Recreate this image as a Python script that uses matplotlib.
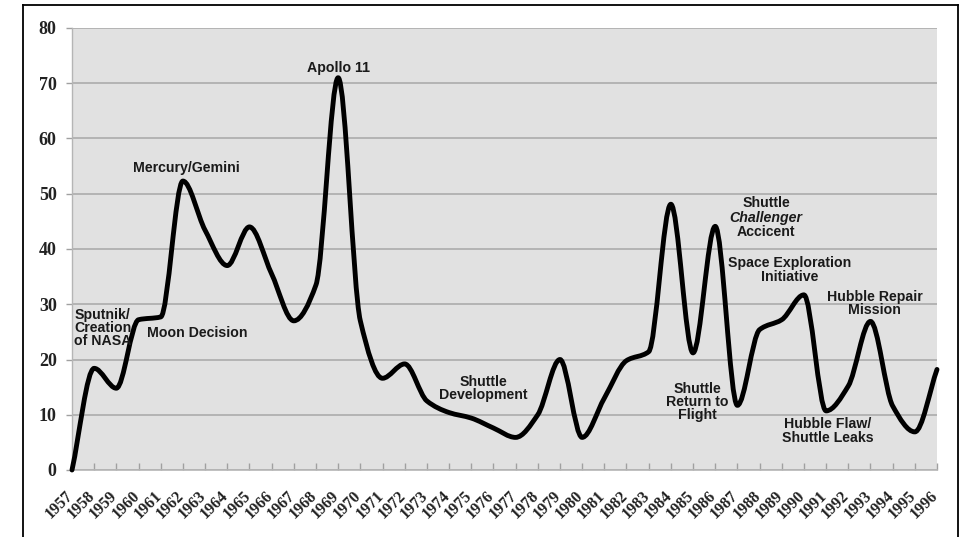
import numpy as np
import matplotlib
matplotlib.use("Agg")
import matplotlib.pyplot as plt
from matplotlib.path import Path
from matplotlib.patches import PathPatch
from matplotlib.lines import Line2D
import matplotlib.transforms as mtransforms

# ---------------- data ----------------
years = list(range(1957, 1997))
values = [0, 18.4, 14.8, 27.2, 27.7, 52.3, 43.4, 37, 44, 35.5,
          27, 33.5, 71, 27, 16.6, 19.2, 12.5, 10.4, 9.4, 7.6,
          5.9, 10, 20, 5.9, 13, 19.8, 21.4, 48.1, 21.2, 44.1,
          11.7, 25.4, 27.2, 31.7, 10.7, 15.2, 26.9, 11.6, 6.9, 18.2]
tick_labels = [str(y) for y in years]
y_ticks = [0, 10, 20, 30, 40, 50, 60, 70, 80]

annotations = [
    ("Sputnik/\nCreation\nof NASA", 1957.1, 25.7, "left"),
    ("Moon Decision", 1960.4, 24.8, "left"),
    ("Mercury/Gemini", 1962.16, 54.7, "center"),
    ("Apollo 11", 1969.03, 72.8, "center"),
    ("Shuttle\nDevelopment", 1975.54, 14.7, "center"),
    ("Space Exploration\nInitiative", 1989.34, 36.2, "center"),
    ("Hubble Repair\nMission", 1993.2, 30.1, "center"),
    ("Shuttle\nReturn to\nFlight", 1985.2, 12.3, "center"),
    ("Hubble Flaw/\nShuttle Leaks", 1991.07, 7.06, "center"),
]
challenger_lines = [("Shuttle", "normal", 48.3),
                    ("Challenger", "italic", 45.6),
                    ("Accicent", "normal", 43.1)]
challenger_x = 1988.29

# ---------------- figure ----------------
W, H, DPI = 964, 537, 100
fig = plt.figure(figsize=(W / DPI, H / DPI), dpi=DPI)
fig.patch.set_facecolor("white")
ax = fig.add_axes([72 / W, 1 - 470 / H, (937 - 72) / W, (470 - 28) / H])
ax.set_facecolor("#e1e1e1")

ax.set_xlim(years[0], years[-1])
ax.set_ylim(0, 80)

# smooth monotone (Fritsch-Carlson) curve expressed as bezier path
x = np.array(years, dtype=float)
y = np.array(values, dtype=float)
n = len(x)
h = np.diff(x)
d = np.diff(y) / h
m = np.zeros(n)
for i in range(1, n - 1):
    if d[i - 1] * d[i] > 0:
        w1 = 2 * h[i] + h[i - 1]
        w2 = h[i] + 2 * h[i - 1]
        m[i] = (w1 + w2) / (w1 / d[i - 1] + w2 / d[i])
m[0] = d[0]
m[-1] = d[-1]
verts = [(x[0], y[0])]
codes = [Path.MOVETO]
for i in range(n - 1):
    hh = h[i]
    verts += [(x[i] + hh / 3, y[i] + m[i] * hh / 3),
              (x[i + 1] - hh / 3, y[i + 1] - m[i + 1] * hh / 3),
              (x[i + 1], y[i + 1])]
    codes += [Path.CURVE4] * 3
path = Path(verts, codes)
ax.add_patch(PathPatch(path, fill=False, edgecolor="black", lw=3.5,
                       capstyle="round", joinstyle="round", zorder=3,
                       clip_on=False))

# grid
ax.set_yticks(y_ticks)
ax.yaxis.grid(True, color="#ababab", lw=1.2)
ax.set_axisbelow(True)
for s in ["top", "right"]:
    ax.spines[s].set_visible(False)
ax.spines["left"].set_color("#b5b5b5")
ax.spines["bottom"].set_color("#b5b5b5")
ax.spines["left"].set_linewidth(1.0)
ax.spines["bottom"].set_linewidth(1.2)

serif = ["Liberation Serif", "DejaVu Serif"]
ax.tick_params(axis="y", length=4, width=1, color="#a0a0a0", pad=7)
for lab in ax.get_yticklabels():
    lab.set_fontfamily(serif)
    lab.set_fontweight("bold")
    lab.set_fontsize(13)
    lab.set_color("#222222")

ax.set_xticks(years)
ax.set_xticklabels(tick_labels, rotation=45, ha="right", va="top",
                   rotation_mode="anchor", fontfamily=serif,
                   fontweight="bold", fontsize=11.5, color="#222222")
ax.tick_params(axis="x", direction="in", length=5, width=1,
               color="#a0a0a0", pad=13)
offset = mtransforms.ScaledTranslation(-7 / DPI, 0, fig.dpi_scale_trans)
for lab in ax.get_xticklabels():
    lab.set_transform(lab.get_transform() + offset)

sans = ["Liberation Sans", "DejaVu Sans"]
for txt, tx, ty, ha in annotations:
    ax.text(tx, ty, txt, ha=ha, va="center", fontfamily=sans,
            fontweight="bold", fontsize=10.2, linespacing=0.92,
            color="#1a1a1a", zorder=4, multialignment=ha)
for txt, style, ty in challenger_lines:
    ax.text(challenger_x, ty, txt, ha="center", va="center",
            fontfamily=sans, fontweight="bold", fontstyle=style,
            fontsize=10.2, color="#1a1a1a", zorder=4)

# outer frame
x0, x1, yt = 23 / W, 958 / W, 1 - 5 / H
for xs, ys in [([x0, x0], [-0.1, yt]), ([x0, x1], [yt, yt]), ([x1, x1], [yt, -0.1])]:
    fig.add_artist(Line2D(xs, ys, transform=fig.transFigure, color="black", lw=1.3))

fig.savefig("out.png", dpi=DPI)
